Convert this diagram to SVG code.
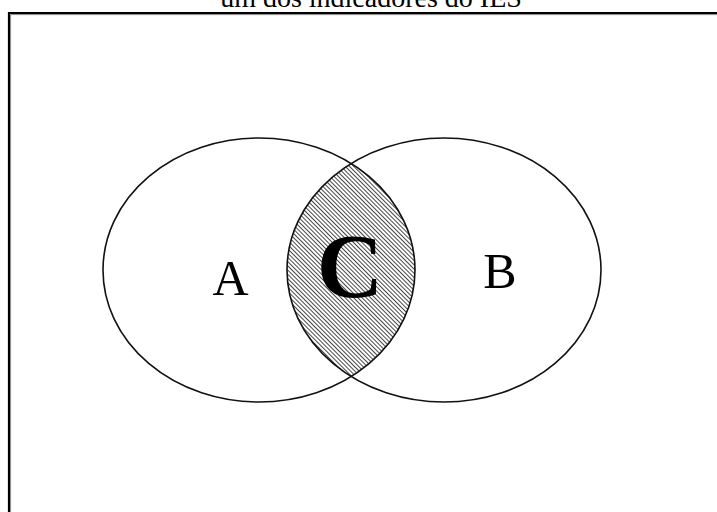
<svg xmlns="http://www.w3.org/2000/svg" width="717" height="512" viewBox="0 0 717 512">
  <style>
    .ell { fill: none; stroke: #111; stroke-width: 1.6; }
    .lbl { font-family: "Liberation Serif", "Times New Roman", serif; fill: #000; }
  </style>
  <defs>
    <pattern id="hatch" patternUnits="userSpaceOnUse" width="3" height="3" patternTransform="rotate(-45)">
      <rect width="3" height="3" fill="#fff"/>
      <line x1="0.5" y1="0" x2="0.5" y2="3" stroke="#333" stroke-width="0.9"/>
    </pattern>
    <clipPath id="clipA">
      <ellipse cx="259" cy="270" rx="156" ry="132"/>
    </clipPath>
  </defs>
  <rect width="717" height="512" fill="#fff"/>
  <text class="lbl" x="371" y="7" font-size="28" text-anchor="middle">um dos indicadores do IES</text>
  <g id="frame">
    <path d="M9 520 V13 H720" fill="none" stroke="#000" stroke-width="2.2"/>
    <path d="M10.6 520 V14.6 H720" fill="none" stroke="#888" stroke-width="1"/>
  </g>
  <g id="C">
    <ellipse cx="444" cy="270" rx="157" ry="132" fill="url(#hatch)" clip-path="url(#clipA)"/>
    <text class="lbl" x="350" y="297" font-size="92" font-weight="bold" text-anchor="middle">C</text>
  </g>
  <g id="A">
    <ellipse class="ell" cx="259" cy="270" rx="156" ry="132"/>
    <text class="lbl" x="230.5" y="295" font-size="50" text-anchor="middle">A</text>
  </g>
  <g id="B">
    <ellipse class="ell" cx="444" cy="270" rx="157" ry="132"/>
    <text class="lbl" x="500" y="288" font-size="50" text-anchor="middle">B</text>
  </g>
  <g id="connectors"></g>
</svg>
